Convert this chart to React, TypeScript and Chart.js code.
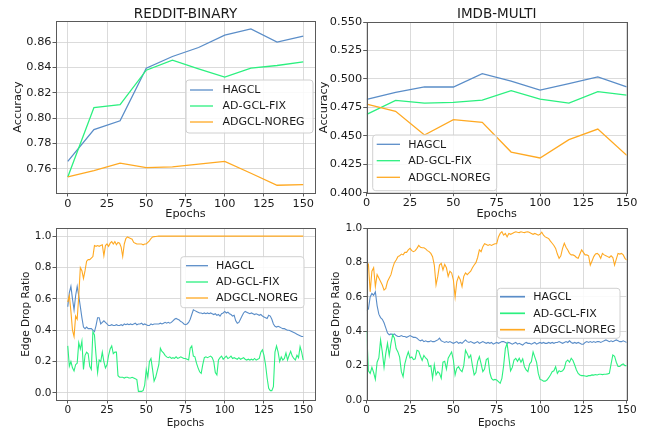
import React, { useEffect, useRef } from "react";
import { Chart, registerables } from "chart.js";

Chart.register(...registerables);

// ---------------- data ----------------
const SERIES_NAMES = ["HAGCL", "AD-GCL-FIX", "ADGCL-NOREG"];
const X_TICKS = [0, 25, 50, 75, 100, 125, 150];
const ACC_Y_TICKS_REDDIT = [0.76, 0.78, 0.8, 0.82, 0.84, 0.86];
const ACC_Y_TICKS_IMDB = [0.4, 0.425, 0.45, 0.475, 0.5, 0.525, 0.55];
const DROP_Y_TICKS = [0, 0.2, 0.4, 0.6, 0.8, 1.0];

const ACC_EPOCHS = [0, 16.67, 33.33, 50, 66.67, 83.33, 100, 116.67, 133.33, 150];

const REDDIT_ACC_HAGCL = [0.766, 0.791, 0.798, 0.8395, 0.8487, 0.8558, 0.8655, 0.8705, 0.86, 0.8647];
const REDDIT_ACC_FIX = [0.7537, 0.8084, 0.8108, 0.8379, 0.8458, 0.839, 0.8324, 0.8395, 0.8416, 0.8445];
const REDDIT_ACC_NOREG = [0.7537, 0.7587, 0.7645, 0.761, 0.7616, 0.7637, 0.766, 0.7566, 0.7471, 0.7476];

const IMDB_ACC_HAGCL = [0.482, 0.4882, 0.4929, 0.4929, 0.5046, 0.4981, 0.4902, 0.4958, 0.5017, 0.4929];
const IMDB_ACC_FIX = [0.4688, 0.4811, 0.4788, 0.4794, 0.4814, 0.4896, 0.4823, 0.4788, 0.4888, 0.4858];
const IMDB_ACC_NOREG = [0.4779, 0.4715, 0.4507, 0.4642, 0.4618, 0.4357, 0.4305, 0.4466, 0.4559, 0.4328];

// edge drop ratio, one value per epoch 0..150
const REDDIT_DROP_HAGCL = [
  0.55, 0.64, 0.68, 0.6, 0.53, 0.62, 0.68, 0.62, 0.55, 0.48,
  0.42, 0.41, 0.42, 0.41, 0.41, 0.41, 0.4, 0.39, 0.43, 0.48,
  0.48, 0.44, 0.45, 0.46, 0.45, 0.44, 0.43, 0.43, 0.435, 0.43,
  0.43, 0.435, 0.43, 0.43, 0.435, 0.43, 0.44, 0.435, 0.44, 0.435,
  0.44, 0.435, 0.44, 0.445, 0.435, 0.44, 0.44, 0.445, 0.435, 0.44,
  0.435, 0.43, 0.43, 0.44, 0.435, 0.44, 0.44, 0.44, 0.44, 0.445,
  0.44, 0.445, 0.45, 0.445, 0.45, 0.445, 0.45, 0.46, 0.47, 0.475,
  0.47, 0.465, 0.455, 0.45, 0.44, 0.435, 0.44, 0.45, 0.47, 0.5,
  0.53, 0.525, 0.52, 0.515, 0.51, 0.51, 0.505, 0.51, 0.505, 0.51,
  0.505, 0.51, 0.505, 0.5, 0.505, 0.495, 0.5, 0.49, 0.505, 0.51,
  0.52, 0.51, 0.515, 0.505, 0.5, 0.49, 0.495, 0.46, 0.445, 0.45,
  0.47, 0.49, 0.51, 0.52, 0.515, 0.51, 0.505, 0.51, 0.505, 0.5,
  0.505, 0.5, 0.495, 0.5, 0.49, 0.485, 0.48, 0.475, 0.495, 0.49,
  0.47, 0.44, 0.425, 0.42, 0.425, 0.42, 0.415, 0.41, 0.41, 0.405,
  0.4, 0.4, 0.395, 0.39, 0.385, 0.38, 0.375, 0.37, 0.365, 0.36, 0.36,
];
const REDDIT_DROP_FIX = [
  0.3, 0.17, 0.2, 0.16, 0.14, 0.18, 0.19, 0.32, 0.28, 0.33,
  0.15, 0.24, 0.26, 0.25, 0.17, 0.15, 0.39, 0.37, 0.24, 0.13,
  0.21, 0.2, 0.26, 0.2, 0.16, 0.18, 0.24, 0.28, 0.3, 0.25,
  0.26, 0.26, 0.11, 0.1, 0.1, 0.1, 0.095, 0.1, 0.1, 0.095,
  0.095, 0.1, 0.095, 0.09, 0.085, 0.01, 0.01, 0.01, 0.015, 0.05,
  0.15, 0.1, 0.2, 0.22, 0.15, 0.075, 0.1, 0.14, 0.18, 0.285,
  0.265, 0.255, 0.24, 0.23, 0.225, 0.23, 0.22, 0.225, 0.22, 0.23,
  0.22, 0.225, 0.23, 0.225, 0.22, 0.22, 0.215, 0.21, 0.285, 0.3,
  0.235, 0.23, 0.19, 0.16, 0.135, 0.125, 0.18, 0.225, 0.23, 0.225,
  0.23, 0.235, 0.225, 0.2, 0.13, 0.115, 0.21, 0.225, 0.235, 0.215,
  0.225, 0.235, 0.22, 0.225, 0.235, 0.22, 0.225, 0.22, 0.215, 0.225,
  0.215, 0.22, 0.225, 0.215, 0.21, 0.215, 0.21, 0.215, 0.21, 0.22,
  0.21, 0.215, 0.22, 0.26, 0.275, 0.24, 0.18, 0.095, 0.03, 0.015,
  0.015, 0.04, 0.26, 0.3, 0.26, 0.2, 0.23, 0.21, 0.22, 0.255,
  0.21, 0.24, 0.265, 0.235, 0.22, 0.21, 0.24, 0.225, 0.295, 0.26, 0.21,
];
const REDDIT_DROP_NOREG = [
  0.58, 0.62, 0.52, 0.4, 0.36, 0.49, 0.47, 0.62, 0.8, 0.78,
  0.73, 0.78, 0.84, 0.85, 0.85, 0.86, 0.87, 0.94, 0.935, 0.94,
  0.935, 0.94, 0.945, 0.875, 0.94, 0.95, 0.935, 0.955, 0.965, 0.95,
  0.965, 0.945, 0.96, 0.955, 0.93, 0.87, 0.95, 0.985, 0.995, 0.99,
  0.985, 0.98, 0.96, 0.955, 0.95, 0.95, 0.95, 0.95, 0.945, 0.95,
  0.95, 0.96, 0.97, 0.985, 0.995, 0.997, 0.998, 0.999, 1, 1,
  1, 1, 1, 1, 1, 1, 1, 1, 1, 1,
  1, 1, 1, 1, 1, 1, 1, 1, 1, 1,
  1, 1, 1, 1, 1, 1, 1, 1, 1, 1,
  1, 1, 1, 1, 1, 1, 1, 1, 1, 1,
  1, 1, 1, 1, 1, 1, 1, 1, 1, 1,
  1, 1, 1, 1, 1, 1, 1, 1, 1, 1,
  1, 1, 1, 1, 1, 1, 1, 1, 1, 1,
  1, 1, 1, 1, 1, 1, 1, 1, 1, 1,
  1, 1, 1, 1, 1, 1, 1, 1, 1, 1, 1,
];

const IMDB_DROP_HAGCL = [
  0.52, 0.53, 0.6, 0.62, 0.61, 0.63, 0.55, 0.5, 0.48, 0.47,
  0.45, 0.42, 0.39, 0.38, 0.385, 0.38, 0.385, 0.375, 0.37, 0.37,
  0.375, 0.37, 0.37, 0.365, 0.37, 0.375, 0.37, 0.365, 0.365, 0.36,
  0.35, 0.345, 0.35, 0.34, 0.345, 0.34, 0.34, 0.345, 0.34, 0.34,
  0.345, 0.35, 0.36, 0.345, 0.34, 0.335, 0.34, 0.335, 0.34, 0.335,
  0.33, 0.335, 0.34, 0.33, 0.335, 0.33, 0.34, 0.35, 0.34, 0.335,
  0.34, 0.335, 0.33, 0.335, 0.34, 0.33, 0.335, 0.34, 0.335, 0.33,
  0.335, 0.33, 0.335, 0.325, 0.33, 0.335, 0.33, 0.335, 0.34, 0.34,
  0.335, 0.33, 0.335, 0.33, 0.325, 0.33, 0.335, 0.325, 0.33, 0.325,
  0.32, 0.33, 0.335, 0.33, 0.33, 0.325, 0.33, 0.335, 0.325, 0.33,
  0.335, 0.33, 0.335, 0.33, 0.33, 0.335, 0.33, 0.335, 0.33, 0.335,
  0.335, 0.34, 0.335, 0.33, 0.335, 0.34, 0.335, 0.345, 0.335, 0.33,
  0.335, 0.33, 0.335, 0.33, 0.325, 0.325, 0.335, 0.34, 0.335, 0.34,
  0.335, 0.34, 0.335, 0.34, 0.34, 0.335, 0.34, 0.345, 0.35, 0.345,
  0.34, 0.345, 0.34, 0.345, 0.35, 0.345, 0.34, 0.34, 0.345, 0.34, 0.335,
];
const IMDB_DROP_FIX = [
  0.4, 0.17, 0.155, 0.19, 0.16, 0.12, 0.22, 0.245, 0.35, 0.28,
  0.19, 0.27, 0.33, 0.26, 0.33, 0.38, 0.36, 0.3, 0.28, 0.25,
  0.165, 0.136, 0.21, 0.25, 0.28, 0.245, 0.25, 0.235, 0.24, 0.29,
  0.285, 0.255, 0.23, 0.26, 0.245, 0.235, 0.195, 0.2, 0.126, 0.205,
  0.146, 0.165, 0.155, 0.126, 0.22, 0.225, 0.18, 0.243, 0.262, 0.28,
  0.233, 0.146, 0.185, 0.194, 0.175, 0.165, 0.2, 0.29, 0.27, 0.245,
  0.262, 0.2, 0.146, 0.16, 0.225, 0.252, 0.21, 0.165, 0.18, 0.235,
  0.243, 0.16, 0.126, 0.116, 0.12, 0.116, 0.107, 0.097, 0.126, 0.2,
  0.3, 0.33, 0.25, 0.17, 0.19, 0.233, 0.243, 0.225, 0.243, 0.22,
  0.24, 0.194, 0.175, 0.165, 0.21, 0.223, 0.28, 0.25, 0.22, 0.155,
  0.12, 0.116, 0.11, 0.11, 0.116, 0.13, 0.146, 0.165, 0.17, 0.194,
  0.155, 0.17, 0.165, 0.17, 0.184, 0.223, 0.233, 0.22, 0.243, 0.23,
  0.204, 0.175, 0.155, 0.146, 0.142, 0.142, 0.14, 0.138, 0.142, 0.142,
  0.146, 0.145, 0.148, 0.146, 0.15, 0.15, 0.148, 0.15, 0.15, 0.152,
  0.155, 0.21, 0.262, 0.255, 0.22, 0.195, 0.196, 0.205, 0.21, 0.2, 0.2,
];
const IMDB_DROP_NOREG = [
  0.78, 0.79, 0.63, 0.75, 0.77, 0.66, 0.73, 0.71, 0.69, 0.67,
  0.64, 0.65, 0.69, 0.71, 0.73, 0.77, 0.8, 0.815, 0.835, 0.84,
  0.85, 0.845, 0.86, 0.86, 0.874, 0.883, 0.87, 0.864, 0.87, 0.883,
  0.9, 0.89, 0.887, 0.887, 0.88, 0.87, 0.864, 0.854, 0.835, 0.786,
  0.67, 0.72, 0.786, 0.796, 0.757, 0.79, 0.77, 0.72, 0.75, 0.74,
  0.7, 0.6, 0.69, 0.72, 0.7, 0.66, 0.72, 0.74, 0.73, 0.74,
  0.75, 0.77, 0.786, 0.8, 0.83, 0.874, 0.864, 0.893, 0.91, 0.905,
  0.9, 0.905, 0.9, 0.905, 0.91, 0.91, 0.95, 0.97, 0.98, 0.96,
  0.97, 0.95, 0.97, 0.965, 0.97, 0.975, 0.98, 0.977, 0.975, 0.98,
  0.977, 0.975, 0.978, 0.98, 0.975, 0.97, 0.965, 0.97, 0.965, 0.96,
  0.965, 0.977, 0.96, 0.95, 0.945, 0.94, 0.925, 0.913, 0.9, 0.883,
  0.85, 0.825, 0.84, 0.883, 0.913, 0.89, 0.874, 0.854, 0.845, 0.845,
  0.84, 0.83, 0.825, 0.85, 0.874, 0.86, 0.845, 0.845, 0.84, 0.786,
  0.81, 0.835, 0.85, 0.854, 0.845, 0.825, 0.854, 0.845, 0.84, 0.835,
  0.83, 0.84, 0.83, 0.786, 0.82, 0.854, 0.85, 0.854, 0.845, 0.825, 0.815,
];

// ---------------- styles ----------------
const COLORS = ["#5a8dc8", "#2bf07f", "#ffa922"];
const FONT = "'DejaVu Sans', sans-serif";
const TEXT_COLOR = "#1a1a1a";
const SPINE = "#5a5a5a";
const GRID = "#d2d2d2";

const epochIndex = (arr: number[]) => arr.map((_, i) => i);

const mplPlugin = {
  id: "mplFrame",
  afterDraw(chart: any, _args: any, opts: any) {
    const { ctx, chartArea: a } = chart;
    ctx.save();
    ctx.strokeStyle = SPINE;
    ctx.lineWidth = 1;
    ctx.strokeRect(Math.round(a.left) + 0.5, Math.round(a.top) + 0.5, Math.round(a.right - a.left), Math.round(a.bottom - a.top));
    if (opts.title) {
      ctx.font = `${opts.title.size}px ${FONT}`;
      ctx.fillStyle = TEXT_COLOR;
      ctx.textAlign = "center";
      ctx.textBaseline = "alphabetic";
      ctx.fillText(opts.title.text, (a.left + a.right) / 2, opts.title.baseline);
    }
    const L = opts.legend;
    if (L) {
      const bx = a.left + L.x, by = a.top + L.y, bw = L.w, bh = L.h, r = 3;
      ctx.beginPath();
      ctx.moveTo(bx + r, by);
      ctx.lineTo(bx + bw - r, by);
      ctx.quadraticCurveTo(bx + bw, by, bx + bw, by + r);
      ctx.lineTo(bx + bw, by + bh - r);
      ctx.quadraticCurveTo(bx + bw, by + bh, bx + bw - r, by + bh);
      ctx.lineTo(bx + r, by + bh);
      ctx.quadraticCurveTo(bx, by + bh, bx, by + bh - r);
      ctx.lineTo(bx, by + r);
      ctx.quadraticCurveTo(bx, by, bx + r, by);
      ctx.closePath();
      ctx.fillStyle = "rgba(255,255,255,0.85)";
      ctx.fill();
      ctx.strokeStyle = "#d0d0d0";
      ctx.lineWidth = 1;
      ctx.stroke();
      ctx.font = `${L.fontSize}px ${FONT}`;
      ctx.textBaseline = "middle";
      ctx.textAlign = "left";
      SERIES_NAMES.forEach((name, i) => {
        const y = a.top + L.rows[i];
        ctx.strokeStyle = COLORS[i];
        ctx.lineWidth = L.lineWidth;
        ctx.beginPath();
        ctx.moveTo(a.left + L.lx0, y);
        ctx.lineTo(a.left + L.lx1, y);
        ctx.stroke();
        ctx.fillStyle = TEXT_COLOR;
        ctx.fillText(name, a.left + L.tx, y + 0.5);
      });
    }
    ctx.restore();
  },
};

type Panel = {
  key: string;
  left: number; top: number; width: number; height: number;
  pad: { left: number; right: number; top: number; bottom: number };
  title?: any;
  yTitle: string; yTitlePad: number; yAxisW: number;
  xTitlePad: number; xAxisH: number;
  tickFont: number; labelFont: number;
  xMin: number; xMax: number; yMin: number; yMax: number;
  yTicks: number[]; yDec: number;
  xs: number[]; ys: number[][]; lw: number;
  legend: any;
};

const PANELS: Panel[] = [
  {
    key: "tl", left: 0, top: 0, width: 325, height: 225,
    pad: { left: 0, right: 10, top: 21, bottom: 0 },
    title: { text: "REDDIT-BINARY", size: 13.5, baseline: 17.8 },
    yTitle: "Accuracy", yTitlePad: 11.2, yAxisW: 56,
    xTitlePad: 4.2, xAxisH: 32, tickFont: 11.3, labelFont: 11.3,
    xMin: -7.5, xMax: 157.5, yMin: 0.741, yMax: 0.8767,
    yTicks: ACC_Y_TICKS_REDDIT, yDec: 2,
    xs: ACC_EPOCHS, ys: [REDDIT_ACC_HAGCL, REDDIT_ACC_FIX, REDDIT_ACC_NOREG], lw: 1.3,
    legend: { x: 130, y: 59, w: 127, h: 53, rows: [69, 85, 101], lx0: 134, lx1: 157, tx: 166.5, fontSize: 11, lineWidth: 1.3 },
  },
  {
    key: "tr", left: 312, top: 0, width: 338, height: 225,
    pad: { left: 0, right: 23.3, top: 22, bottom: 0 },
    title: { text: "IMDB-MULTI", size: 13.5, baseline: 17.8 },
    yTitle: "Accuracy", yTitlePad: 5.2, yAxisW: 54.7,
    xTitlePad: 4.2, xAxisH: 32.3, tickFont: 11.3, labelFont: 11.3,
    xMin: 0, xMax: 150, yMin: 0.4, yMax: 0.55,
    yTicks: ACC_Y_TICKS_IMDB, yDec: 3,
    xs: ACC_EPOCHS, ys: [IMDB_ACC_HAGCL, IMDB_ACC_FIX, IMDB_ACC_NOREG], lw: 1.3,
    legend: { x: 6, y: 113, w: 124, h: 55.7, rows: [122.3, 138.7, 155.3], lx0: 10, lx1: 33.3, tx: 41.6, fontSize: 11, lineWidth: 1.3 },
  },
  {
    key: "bl", left: 0, top: 215, width: 325, height: 216,
    pad: { left: 0, right: 10, top: 13.3, bottom: 0 },
    yTitle: "Edge Drop Ratio", yTitlePad: 19.7, yAxisW: 56,
    xTitlePad: 1.9, xAxisH: 31, tickFont: 10.5, labelFont: 10.5,
    xMin: -7.5, xMax: 157.5, yMin: -0.045, yMax: 1.05,
    yTicks: DROP_Y_TICKS, yDec: 1,
    xs: epochIndex(REDDIT_DROP_HAGCL), ys: [REDDIT_DROP_HAGCL, REDDIT_DROP_FIX, REDDIT_DROP_NOREG], lw: 1.1,
    legend: { x: 124.7, y: 28.4, w: 123.3, h: 51, rows: [37.4, 53.7, 69.7], lx0: 130, lx1: 152, tx: 160, fontSize: 11, lineWidth: 1.3 },
  },
  {
    key: "br", left: 312, top: 215, width: 338, height: 216,
    pad: { left: 0, right: 23.3, top: 13.3, bottom: 0 },
    yTitle: "Edge Drop Ratio", yTitlePad: 17.7, yAxisW: 54.7,
    xTitlePad: 1.9, xAxisH: 31, tickFont: 10.5, labelFont: 10.5,
    xMin: 0, xMax: 150, yMin: 0, yMax: 1.0,
    yTicks: DROP_Y_TICKS, yDec: 1,
    xs: epochIndex(IMDB_DROP_HAGCL), ys: [IMDB_DROP_HAGCL, IMDB_DROP_FIX, IMDB_DROP_NOREG], lw: 1.1,
    legend: { x: 130.6, y: 60, w: 122.7, h: 50, rows: [68.4, 85, 101.4], lx0: 133.3, lx1: 158.3, tx: 166.6, fontSize: 11, lineWidth: 1.7 },
  },
];

function PanelChart({ p }: { p: Panel }) {
  const ref = useRef<HTMLCanvasElement | null>(null);
  useEffect(() => {
    if (!ref.current) return;
    const gridCommon = {
      color: GRID,
      lineWidth: 0.8,
      borderDash: [3, 2],
      tickColor: SPINE,
      tickWidth: 1,
      tickBorderDash: [],
      tickLength: 3.5,
      drawTicks: true,
    };
    const chart = new Chart(ref.current, {
      type: "line",
      data: {
        datasets: p.ys.map((ys, i) => ({
          label: SERIES_NAMES[i],
          data: p.xs.map((x, j) => ({ x, y: ys[j] })),
          borderColor: COLORS[i],
          backgroundColor: COLORS[i],
          borderWidth: p.lw,
          pointRadius: 0,
          tension: 0,
          fill: false,
          order: 2 - i,
        })),
      },
      options: {
        responsive: false,
        maintainAspectRatio: false,
        animation: false,
        devicePixelRatio: 1,
        layout: { padding: p.pad },
        plugins: {
          legend: { display: false },
          tooltip: { enabled: false },
          title: { display: false },
          mplFrame: { legend: p.legend, title: p.title },
        } as any,
        scales: {
          x: {
            type: "linear",
            min: p.xMin,
            max: p.xMax,
            afterBuildTicks: (s: any) => {
              s.ticks = X_TICKS.map((v) => ({ value: v }));
            },
            afterFit: (s: any) => {
              s.height = p.xAxisH;
            },
            ticks: {
              color: TEXT_COLOR,
              font: { family: FONT, size: p.tickFont },
              padding: 0.5,
              maxRotation: 0,
              autoSkip: false,
              callback: (v: any) => String(v),
            },
            grid: gridCommon,
            border: { display: false },
            title: {
              display: true,
              text: "Epochs",
              color: TEXT_COLOR,
              font: { family: FONT, size: p.labelFont, lineHeight: 1.2 },
              padding: { top: 0, bottom: p.xTitlePad },
            },
          },
          y: {
            type: "linear",
            min: p.yMin,
            max: p.yMax,
            afterBuildTicks: (s: any) => {
              s.ticks = p.yTicks.map((v) => ({ value: v }));
            },
            afterFit: (s: any) => {
              s.width = p.yAxisW;
            },
            ticks: {
              color: TEXT_COLOR,
              font: { family: FONT, size: p.tickFont },
              padding: 1,
              autoSkip: false,
              callback: (v: any) => Number(v).toFixed(p.yDec),
            },
            grid: gridCommon,
            border: { display: false },
            title: {
              display: true,
              text: p.yTitle,
              color: TEXT_COLOR,
              font: { family: FONT, size: p.labelFont, lineHeight: 1.2 },
              padding: { top: p.yTitlePad, bottom: 0 },
            },
          },
        },
      } as any,
      plugins: [mplPlugin as any],
    });
    return () => chart.destroy();
  }, [p]);
  return (
    <canvas
      ref={ref}
      width={p.width}
      height={p.height}
      style={{ position: "absolute", left: p.left, top: p.top, width: p.width, height: p.height }}
    />
  );
}

export default function App() {
  return (
    <div style={{ position: "absolute", left: 0, top: 0, width: 650, height: 431, background: "#ffffff", overflow: "hidden" }}>
      {PANELS.map((p) => (
        <PanelChart key={p.key} p={p} />
      ))}
    </div>
  );
}
